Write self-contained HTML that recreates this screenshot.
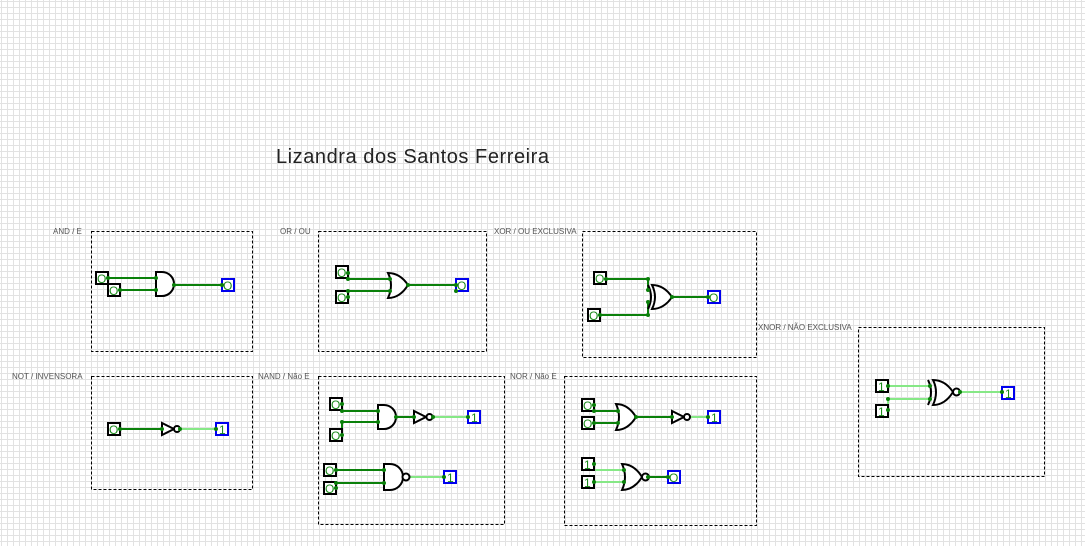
<!DOCTYPE html>
<html><head><meta charset="utf-8"><style>
html,body{margin:0;padding:0;background:#fff;}
svg{display:block;}
.lbl{font-family:"Liberation Sans",sans-serif;font-size:8px;fill:#555;}
.v{font-family:"Liberation Sans",sans-serif;font-size:12px;fill:#1a8a1a;}
</style></head><body>
<svg width="1085" height="546" viewBox="0 0 1085 546" xmlns="http://www.w3.org/2000/svg">
<defs>
<pattern id="g" width="6" height="6" patternUnits="userSpaceOnUse" x="1" y="1">
<path d="M0 0.5H6M0.5 0V6" stroke="#e2e2e2" stroke-width="1" fill="none"/>
</pattern>
</defs>
<rect width="1085" height="546" fill="#fff"/>
<rect width="1085" height="546" fill="url(#g)"/>

<text x="276" y="163" font-family="Liberation Sans, sans-serif" font-size="20" fill="#222" textLength="273">Lizandra dos Santos Ferreira</text>

<g fill="none" stroke="#000" stroke-width="1" stroke-dasharray="3,2">
<rect x="91.5" y="231.5" width="161" height="120"/>
<rect x="318.5" y="231.5" width="168" height="120"/>
<rect x="582.5" y="231.5" width="174" height="126"/>
<rect x="91.5" y="376.5" width="161" height="113"/>
<rect x="318.5" y="376.5" width="186" height="148"/>
<rect x="564.5" y="376.5" width="192" height="149"/>
<rect x="858.5" y="327.5" width="186" height="149"/>
</g>
<text class="lbl" x="53" y="234">AND / E</text>
<text class="lbl" x="280" y="234">OR / OU</text>
<text class="lbl" x="494" y="234">XOR / OU EXCLUSIVA</text>
<text class="lbl" x="12" y="379">NOT / INVENSORA</text>
<text class="lbl" x="258" y="379">NAND / Não E</text>
<text class="lbl" x="510" y="379">NOR / Não E</text>
<text class="lbl" x="758" y="330">XNOR / NÃO EXCLUSIVA</text>

<g stroke="#0a800a" stroke-width="2" fill="none">
<path d="M108 278H156M120 290H156M174 285H228"/>
<path d="M348 273V279H390M348 297V291H390M408 285H461V291"/>
<path d="M606 279H648V290M600 315H648V302M672 297H713"/>
<path d="M120 429H162"/>
<path d="M342 404V411H378M342 435V422H378M396 417H414"/>
<path d="M336 470H384M336 488V483H384"/>
<path d="M594 405V411H618M594 423H618M636 417H672"/>
<path d="M648 477H674"/>
</g>
<g stroke="#86e886" stroke-width="2" fill="none">
<path d="M180 429H222"/>
<path d="M433 417H474"/>
<path d="M410 477H450"/>
<path d="M690 417H714"/>
<path d="M594 464V470H624M594 482H624"/>
<path d="M888 386H930M888 410V399H930M960 392H1008"/>
</g>
<g fill="#fff" stroke="#000" stroke-width="2">
<path d="M156 272H162A12 12 0 0 1 162 296H156Z"/>
<path d="M388 273Q400 273 408 285Q400 298 388 298Q394 285 388 273Z"/>
<path d="M652 285Q664 285 672 297Q664 309 652 309Q658 297 652 285Z"/><path d="M648 285Q654 297 648 309" fill="none"/>
<path d="M162 423L174 429L162 435Z"/><circle cx="177" cy="429" r="3"/>
<path d="M378 405H384A12 12 0 0 1 384 429H378Z"/>
<path d="M414 411L426 417L414 423Z"/><circle cx="429.5" cy="417" r="3"/>
<path d="M384 464H390A13 13 0 0 1 390 490H384Z"/><circle cx="406" cy="477" r="3.5"/>
<path d="M616 404Q628 404 636 417Q628 430 616 430Q622 417 616 404Z"/>
<path d="M672 411L684 417L672 423Z"/><circle cx="687" cy="417" r="3"/>
<path d="M622 464Q634 464 642 477Q634 490 622 490Q628 477 622 464Z"/><circle cx="645.5" cy="477" r="3.5"/>
<path d="M933 380Q945 380 953 392Q945 405 933 405Q939 392 933 380Z"/><path d="M928 380Q934 392 928 405" fill="none"/><circle cx="956.5" cy="392" r="3.5"/>
</g>
<g fill="#fff" stroke="#000" stroke-width="2">
<rect x="96" y="272" width="12" height="12"/><rect x="108" y="284" width="12" height="12"/>
<rect x="336" y="266" width="12" height="12"/><rect x="336" y="291" width="12" height="12"/>
<rect x="594" y="272" width="12" height="12"/><rect x="588" y="309" width="12" height="12"/>
<rect x="108" y="423" width="12" height="12"/>
<rect x="330" y="398" width="12" height="12"/><rect x="330" y="429" width="12" height="12"/>
<rect x="324" y="464" width="12" height="12"/><rect x="324" y="482" width="12" height="12"/>
<rect x="582" y="399" width="12" height="12"/><rect x="582" y="417" width="12" height="12"/>
<rect x="582" y="458" width="12" height="12"/><rect x="582" y="476" width="12" height="12"/>
<rect x="876" y="380" width="12" height="12"/><rect x="876" y="405" width="12" height="12"/>
</g>
<g fill="#fff" stroke="#0000ee" stroke-width="2">
<rect x="222" y="279" width="12" height="12"/>
<rect x="456" y="279" width="12" height="12"/>
<rect x="708" y="291" width="12" height="12"/>
<rect x="216" y="423" width="12" height="12"/>
<rect x="468" y="411" width="12" height="12"/>
<rect x="444" y="471" width="12" height="12"/>
<rect x="708" y="411" width="12" height="12"/>
<rect x="668" y="471" width="12" height="12"/>
<rect x="1002" y="387" width="12" height="12"/>
</g>
<g class="v">
<text x="97" y="283">O</text><text x="109" y="295">O</text>
<text x="337" y="277">O</text><text x="337" y="302">O</text>
<text x="595" y="283">O</text><text x="589" y="320">O</text>
<text x="109" y="434">O</text>
<text x="331" y="409">O</text><text x="331" y="440">O</text>
<text x="325" y="475">O</text><text x="325" y="493">O</text>
<text x="583" y="410">O</text><text x="583" y="428">O</text>
<text x="584" y="469">1</text><text x="584" y="487">1</text>
<text x="878" y="391">1</text><text x="878" y="416">1</text>
<text x="223" y="290">O</text><text x="457" y="290">O</text><text x="709" y="302">O</text>
<text x="219" y="434">1</text><text x="471" y="422">1</text><text x="447" y="482">1</text>
<text x="711" y="422">1</text><text x="669" y="482">O</text><text x="1005" y="398">1</text>
</g>
<g fill="#0a800a">
<circle cx="108" cy="278" r="2"/><circle cx="120" cy="290" r="2"/><circle cx="156" cy="278" r="2"/><circle cx="156" cy="290" r="2"/><circle cx="174" cy="285" r="2"/><circle cx="222" cy="285" r="2"/>
<circle cx="348" cy="273" r="2"/><circle cx="348" cy="279" r="2"/><circle cx="348" cy="291" r="2"/><circle cx="348" cy="297" r="2"/><circle cx="390" cy="279" r="2"/><circle cx="390" cy="291" r="2"/><circle cx="408" cy="285" r="2"/><circle cx="456" cy="285" r="2"/><circle cx="456" cy="291" r="2"/>
<circle cx="606" cy="279" r="2"/><circle cx="648" cy="279" r="2"/><circle cx="648" cy="290" r="2"/><circle cx="600" cy="315" r="2"/><circle cx="648" cy="315" r="2"/><circle cx="648" cy="302" r="2"/><circle cx="672" cy="297" r="2"/><circle cx="708" cy="297" r="2"/>
<circle cx="120" cy="429" r="2"/><circle cx="162" cy="429" r="2"/><circle cx="180" cy="429" r="2"/><circle cx="216" cy="429" r="2"/>
<circle cx="342" cy="404" r="2"/><circle cx="342" cy="411" r="2"/><circle cx="342" cy="422" r="2"/><circle cx="342" cy="435" r="2"/><circle cx="378" cy="411" r="2"/><circle cx="378" cy="422" r="2"/><circle cx="396" cy="417" r="2"/><circle cx="414" cy="417" r="2"/><circle cx="433" cy="417" r="2"/><circle cx="468" cy="417" r="2"/>
<circle cx="336" cy="470" r="2"/><circle cx="336" cy="483" r="2"/><circle cx="336" cy="488" r="2"/><circle cx="384" cy="470" r="2"/><circle cx="384" cy="483" r="2"/><circle cx="444" cy="477" r="2"/>
<circle cx="594" cy="405" r="2"/><circle cx="594" cy="411" r="2"/><circle cx="594" cy="423" r="2"/><circle cx="618" cy="411" r="2"/><circle cx="618" cy="423" r="2"/><circle cx="636" cy="417" r="2"/><circle cx="672" cy="417" r="2"/><circle cx="708" cy="417" r="2"/>
<circle cx="594" cy="464" r="2"/><circle cx="594" cy="482" r="2"/><circle cx="624" cy="470" r="2"/><circle cx="624" cy="482" r="2"/><circle cx="648" cy="477" r="2"/><circle cx="668" cy="477" r="2"/>
<circle cx="888" cy="386" r="2"/><circle cx="888" cy="399" r="2"/><circle cx="888" cy="410" r="2"/><circle cx="930" cy="386" r="2"/><circle cx="930" cy="399" r="2"/><circle cx="960" cy="392" r="2"/><circle cx="1002" cy="392" r="2"/>
</g>
</svg>
</body></html>
